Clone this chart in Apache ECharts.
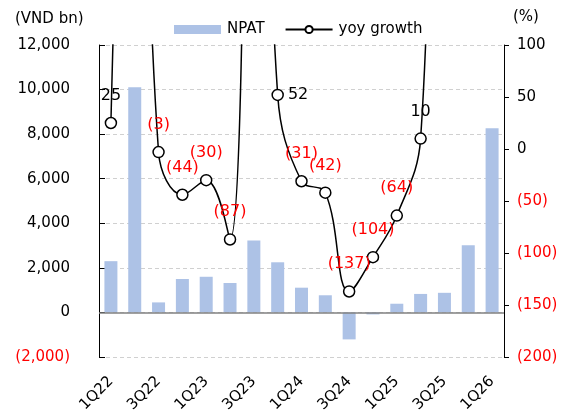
<!DOCTYPE html>
<html><head><meta charset="utf-8">
<script src="https://cdn.jsdelivr.net/npm/echarts@6/dist/echarts.min.js"></script>
<style>html,body{margin:0;padding:0;background:#fff}#c{width:574px;height:418px}</style>
</head><body><div id="c"></div>
<script>
const categories = ['1Q22','2Q22','3Q22','4Q22','1Q23','2Q23','3Q23','4Q23','1Q24','2Q24','3Q24','4Q24','1Q25','2Q25','3Q25','4Q25','1Q26'];
const npat = [2300, 10100, 450, 1500, 1600, 1320, 3230, 2250, 1110, 770, -1210, -90, 390, 830, 880, 3020, 8260];
const yoyGrowth = [25, 600, -3, -44, -30, -87, 650, 52, -31, -42, -137, -104, -64, 10, 620, 500, 420];
const leftAxisRange = [-2000, 12000, 2000];
const rightAxisRange = [-200, 100, 50];

const FONT = 'DejaVu Sans';
const RED = '#ff0000';
function paren(v, withComma) {
  const a = Math.abs(v);
  const s = withComma ? a.toLocaleString('en-US') : String(Math.round(a));
  return v < 0 ? '{r|(' + s + ')}' : '{k|' + s + '}';
}
const rich = { r: { color: RED, fontFamily: FONT, fontSize: 15 }, k: { color: '#000', fontFamily: FONT, fontSize: 15 } };

const lineData = yoyGrowth.map((v, i) => {
  const hidden = v > rightAxisRange[1];
  const right = categories[i] === '4Q23';
  return {
    value: v,
    label: {
      show: !hidden,
      position: right ? 'right' : 'top',
      distance: right ? 4 : 13,
      color: v < 0 ? RED : '#000'
    }
  };
});

const chart = echarts.init(document.getElementById('c'), null, { renderer: 'canvas' });
chart.setOption({
  animation: false,
  backgroundColor: '#fff',
  textStyle: { fontFamily: FONT },
  grid: { left: 99, right: 70, top: 45, bottom: 61, containLabel: false },
  graphic: [
    { type: 'text', left: 15, top: 12, style: { text: '(VND bn)', font: '15px "DejaVu Sans"', fill: '#000' } },
    { type: 'text', left: 513, top: 10, style: { text: '(%)', font: '15px "DejaVu Sans"', fill: '#000' } }
  ],
  legend: {
    left: 169, top: 17, itemWidth: 47, itemHeight: 9, itemGap: 20,
    textStyle: { fontFamily: FONT, fontSize: 15, color: '#000', padding: [0, 0, 0, 1] },
    data: [
      { name: 'NPAT', icon: 'rect' },
      { name: 'yoy growth' }
    ]
  },
  xAxis: {
    type: 'category',
    data: categories,
    axisLine: { show: false, onZero: false },
    axisTick: { show: false },
    axisLabel: { interval: 1, rotate: 45, margin: 22, fontFamily: FONT, fontSize: 15, color: '#000' },
    splitLine: { show: false }
  },
  yAxis: [
    {
      type: 'value', position: 'left',
      min: leftAxisRange[0], max: leftAxisRange[1], interval: leftAxisRange[2],
      axisLine: { show: true, lineStyle: { color: '#000', width: 1 } },
      axisTick: { show: true, inside: true, length: 6, lineStyle: { color: '#000' } },
      axisLabel: { margin: 29, formatter: v => paren(v, true), rich: rich },
      splitLine: { show: true, lineStyle: { color: '#d0d0d0', type: [4, 3], width: 1 } }
    },
    {
      type: 'value', position: 'right',
      min: rightAxisRange[0], max: rightAxisRange[1], interval: rightAxisRange[2],
      axisLine: { show: true, lineStyle: { color: '#000', width: 1 } },
      axisTick: { show: true, inside: false, length: 5, lineStyle: { color: '#000' } },
      axisLabel: { margin: 13, formatter: v => paren(v, false), rich: rich },
      splitLine: { show: false }
    }
  ],
  series: [
    {
      name: 'NPAT', type: 'bar', yAxisIndex: 0, barWidth: 13,
      itemStyle: { color: '#adc2e6' },
      data: npat,
      markLine: {
        silent: true, symbol: 'none', label: { show: false },
        lineStyle: { color: '#808080', width: 1.5, type: 'solid' },
        data: [{ yAxis: 0 }]
      }
    },
    {
      name: 'yoy growth', type: 'line', yAxisIndex: 1, smooth: 0.4, clip: true,
      symbol: 'circle', symbolSize: 11, showAllSymbol: true,
      lineStyle: { color: '#000', width: 1.5 },
      itemStyle: { color: '#fff', borderColor: '#000', borderWidth: 1.5 },
      label: { show: true, fontFamily: FONT, fontSize: 16, formatter: p => { const v = p.value; return v < 0 ? '(' + Math.abs(v) + ')' : String(v); } },
      data: lineData,
      z: 5
    }
  ]
});
</script></body></html>
